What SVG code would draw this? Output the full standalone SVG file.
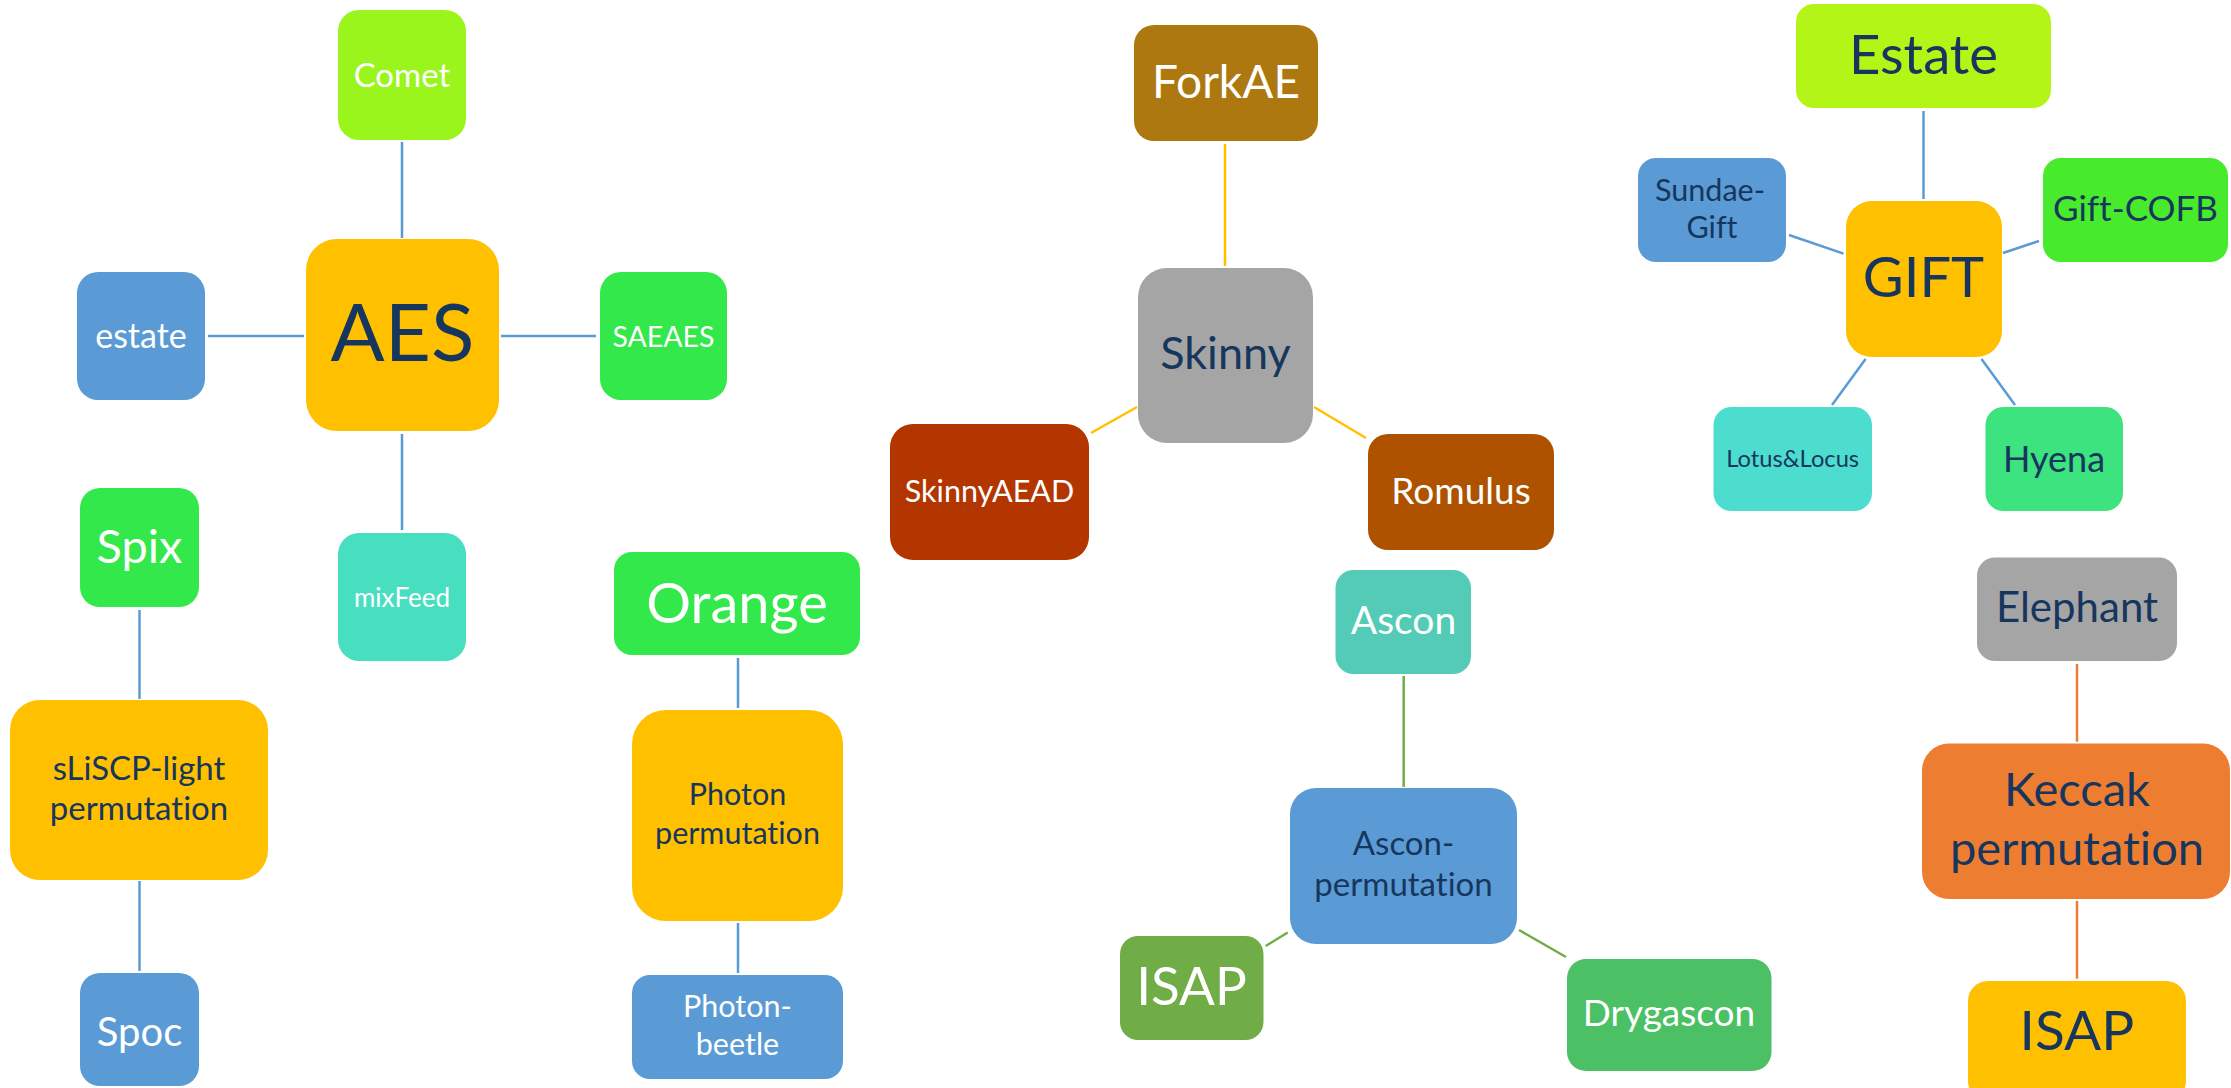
<svg xmlns="http://www.w3.org/2000/svg" width="2231" height="1088" viewBox="0 0 2231 1088">
<style>
text{font-family:Lato,"Liberation Sans",sans-serif;text-anchor:middle;font-variant-ligatures:none;font-feature-settings:"liga" 0,"clig" 0}
.w{fill:#ffffff}
.d{fill:#17365D}
.cb{stroke:#5B9BD5;stroke-width:2.5;fill:none}
.cy{stroke:#FFC000;stroke-width:2.5;fill:none}
.cg{stroke:#70AD47;stroke-width:2.5;fill:none}
.co{stroke:#ED7D31;stroke-width:2.5;fill:none}
</style>
<rect width="2231" height="1088" fill="#ffffff"/>
<g id="connectors">
<line class="cb" x1="402" y1="142" x2="402" y2="238"/>
<line class="cb" x1="402" y1="434" x2="402" y2="530"/>
<line class="cb" x1="208" y1="336" x2="304" y2="336"/>
<line class="cb" x1="501" y1="336" x2="596" y2="336"/>
<line class="cb" x1="139.5" y1="610" x2="139.5" y2="699"/>
<line class="cb" x1="139.5" y1="881" x2="139.5" y2="971"/>
<line class="cb" x1="738" y1="658" x2="738" y2="708"/>
<line class="cb" x1="738" y1="923" x2="738" y2="973"/>
<line class="cy" x1="1225" y1="144" x2="1225" y2="266"/>
<line class="cy" x1="1137" y1="407" x2="1091" y2="433"/>
<line class="cy" x1="1314" y1="407" x2="1366" y2="438"/>
<line class="cb" x1="1923.5" y1="111" x2="1923.5" y2="199"/>
<line class="cb" x1="1789" y1="235" x2="1843.5" y2="253.6"/>
<line class="cb" x1="2003" y1="253" x2="2039" y2="241"/>
<line class="cb" x1="1865.6" y1="359" x2="1832" y2="405"/>
<line class="cb" x1="1981.5" y1="359" x2="2015" y2="405"/>
<line class="cg" x1="1403.7" y1="676" x2="1403.7" y2="787"/>
<line class="cg" x1="1287.7" y1="932.5" x2="1265.7" y2="946"/>
<line class="cg" x1="1519" y1="930" x2="1566" y2="957"/>
<line class="co" x1="2077" y1="664" x2="2077" y2="741.7"/>
<line class="co" x1="2077" y1="901" x2="2077" y2="978.7"/>
</g>
<g id="n-comet"><rect x="338" y="10" width="128" height="130" rx="21" fill="#99F51C"/><text class="w" x="402" y="87" font-size="33">Comet</text></g>
<g id="n-estate-l"><rect x="77" y="272" width="128" height="128" rx="21" fill="#5B9BD5"/><text class="w" x="141" y="348" font-size="34">estate</text></g>
<g id="n-aes"><rect x="306" y="239" width="193" height="192" rx="31" fill="#FFC000"/><text class="d" x="402.5" y="361" font-size="80">AES</text></g>
<g id="n-saeaes"><rect x="600" y="272" width="127" height="128" rx="21" fill="#33E84A"/><text class="w" x="663.5" y="347" font-size="28.5">SAEAES</text></g>
<g id="n-mixfeed"><rect x="338" y="533" width="128" height="128" rx="21" fill="#48DFC0"/><text class="w" x="402" y="607" font-size="26">mixFeed</text></g>
<g id="n-spix"><rect x="80" y="488" width="119" height="119" rx="20" fill="#33E84A"/><text class="w" x="139.5" y="563" font-size="47">Spix</text></g>
<g id="n-sliscp"><rect x="10" y="700" width="258" height="180" rx="30" fill="#FFC000"/><text class="d" x="139" y="780" font-size="33">sLiSCP-light</text><text class="d" x="139" y="820" font-size="33">permutation</text></g>
<g id="n-spoc"><rect x="80" y="973" width="119" height="113" rx="20" fill="#5B9BD5"/><text class="w" x="139.5" y="1046" font-size="40">Spoc</text></g>
<g id="n-orange"><rect x="614" y="552" width="246" height="103" rx="18" fill="#33E84A"/><text class="w" x="737" y="623" font-size="56">Orange</text></g>
<g id="n-photonperm"><rect x="632" y="710" width="211" height="211" rx="34" fill="#FFC000"/><text class="d" x="737.5" y="805" font-size="30.5">Photon</text><text class="d" x="737.5" y="844" font-size="30.5">permutation</text></g>
<g id="n-photonbeetle"><rect x="632" y="975" width="211" height="104" rx="18" fill="#5B9BD5"/><text class="w" x="737.5" y="1017" font-size="30.5">Photon-</text><text class="w" x="737.5" y="1055" font-size="30.5">beetle</text></g>
<g id="n-forkae"><rect x="1134" y="25" width="184" height="116" rx="20" fill="#AE7810"/><text class="w" x="1226" y="98" font-size="46">ForkAE</text></g>
<g id="n-skinny"><rect x="1138" y="268" width="175" height="175" rx="29" fill="#A5A5A5"/><text class="d" x="1225.5" y="369" font-size="45">Skinny</text></g>
<g id="n-skinnyaead"><rect x="890" y="424" width="199" height="136" rx="23" fill="#B33600"/><text class="w" x="989.5" y="502" font-size="30.5">SkinnyAEAD</text></g>
<g id="n-romulus"><rect x="1368" y="434" width="186" height="116" rx="20" fill="#AF5200"/><text class="w" x="1461" y="504" font-size="37">Romulus</text></g>
<g id="n-estate-r"><rect x="1796" y="4" width="255" height="104" rx="18" fill="#B3F516"/><text class="d" x="1923.5" y="74" font-size="54.5">Estate</text></g>
<g id="n-sundae"><rect x="1638" y="158" width="148" height="104" rx="18" fill="#5B9BD5"/><text class="d" x="1710" y="201" font-size="30.5">Sundae-</text><text class="d" x="1712" y="238" font-size="30.5">Gift</text></g>
<g id="n-giftcofb"><rect x="2043" y="158" width="185" height="104" rx="18" fill="#48EA2C"/><text class="d" x="2135.5" y="221" font-size="35">Gift-COFB</text></g>
<g id="n-gift"><rect x="1846" y="201" width="156" height="156" rx="26" fill="#FFC000"/><text class="d" x="1923.5" y="297" font-size="56">GIFT</text></g>
<g id="n-lotus"><rect x="1713.5" y="407" width="158.5" height="104" rx="18" fill="#4DDDCF"/><text class="d" x="1792.7" y="467" font-size="23.7">Lotus&amp;Locus</text></g>
<g id="n-hyena"><rect x="1985.5" y="407" width="137.5" height="104" rx="18" fill="#3CE37E"/><text class="d" x="2054" y="472" font-size="36">Hyena</text></g>
<g id="n-ascon"><rect x="1335.5" y="570" width="135.5" height="104" rx="18" fill="#53CBB7"/><text class="w" x="1403.5" y="634" font-size="39">Ascon</text></g>
<g id="n-asconperm"><rect x="1290" y="788" width="227" height="156" rx="26" fill="#5B9BD5"/><text class="d" x="1403.5" y="855" font-size="33">Ascon-</text><text class="d" x="1403.5" y="896" font-size="33">permutation</text></g>
<g id="n-isap-g"><rect x="1120" y="936" width="143.5" height="104" rx="18" fill="#70AD47"/><text class="w" x="1191.5" y="1005" font-size="53">ISAP</text></g>
<g id="n-drygascon"><rect x="1567" y="959" width="204.5" height="112" rx="19" fill="#4BC065"/><text class="w" x="1669" y="1026" font-size="37">Drygascon</text></g>
<g id="n-elephant"><rect x="1977" y="557.5" width="200" height="103.5" rx="18" fill="#A5A5A5"/><text class="d" x="2077" y="622" font-size="42">Elephant</text></g>
<g id="n-keccak"><rect x="1922" y="743.5" width="308" height="155.5" rx="27" fill="#ED7D31"/><text class="d" x="2077" y="806" font-size="47">Keccak</text><text class="d" x="2077" y="865" font-size="47">permutation</text></g>
<g id="n-isap-y"><rect x="1968" y="981" width="218" height="120" rx="20" fill="#FFC000"/><text class="d" x="2077" y="1050" font-size="55">ISAP</text></g>
</svg>
